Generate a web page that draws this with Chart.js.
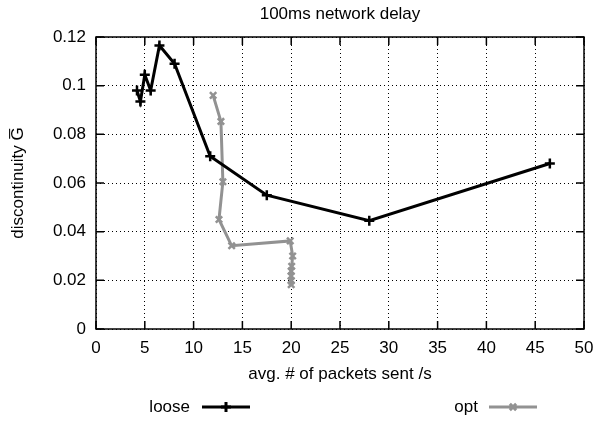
<!DOCTYPE html>
<html>
<head>
<meta charset="utf-8">
<script src="https://cdn.jsdelivr.net/npm/chart.js@4/dist/chart.umd.min.js"></script>
<style>
  html, body { margin: 0; padding: 0; background: #fff; }
  #wrap { width: 605px; height: 421px; }
</style>
</head>
<body>
<div id="wrap"><canvas id="delay-chart" width="605" height="421"></canvas></div>
<script>
// data
const looseX = [4.2, 4.55, 5.0, 5.6, 6.5, 8.05, 11.7, 17.5, 28.0, 46.5];
const looseY = [0.098, 0.0935, 0.1045, 0.098, 0.1165, 0.109, 0.071, 0.055, 0.0445, 0.068];
const optX = [12.0, 12.8, 13.0, 12.6, 13.9, 19.9, 20.15, 20.05, 20.0, 20.0, 20.0, 20.0];
const optY = [0.096, 0.0853, 0.0605, 0.045, 0.0342, 0.0362, 0.030, 0.0258, 0.0238, 0.0218, 0.0198, 0.0182];

const xTicks = [0, 5, 10, 15, 20, 25, 30, 35, 40, 45, 50];
const yTicks = [0, 0.02, 0.04, 0.06, 0.08, 0.1, 0.12];
const yTickLabels = ['0', '0.02', '0.04', '0.06', '0.08', '0.1', '0.12'];

const FONT = 'Liberation Sans, Arial, Helvetica, sans-serif';
const GRAY = '#929292';

const toPoints = (xs, ys) => xs.map((x, i) => ({ x: x, y: ys[i] }));

// box, inward ticks, title and legend like gnuplot
const gnuplotDecor = {
  id: 'gnuplotDecor',
  afterDraw(chart) {
    const ctx = chart.ctx;
    const a = chart.chartArea;
    const xs = chart.scales.x;
    const ys = chart.scales.y;
    ctx.save();
    ctx.strokeStyle = '#000';
    ctx.lineWidth = 1.5;
    ctx.setLineDash([]);
    ctx.strokeRect(a.left, a.top, a.right - a.left, a.bottom - a.top);
    ctx.beginPath();
    xTicks.forEach(v => {
      const px = xs.getPixelForValue(v);
      ctx.moveTo(px, a.bottom); ctx.lineTo(px, a.bottom - 8);
      ctx.moveTo(px, a.top); ctx.lineTo(px, a.top + 8);
    });
    yTicks.forEach(v => {
      const py = ys.getPixelForValue(v);
      ctx.moveTo(a.left, py); ctx.lineTo(a.left + 8, py);
      ctx.moveTo(a.right, py); ctx.lineTo(a.right - 8, py);
    });
    ctx.stroke();

    // title
    ctx.fillStyle = '#000';
    ctx.font = '17px ' + FONT;
    ctx.textAlign = 'center';
    ctx.textBaseline = 'middle';
    ctx.fillText('100ms network delay', (a.left + a.right) / 2, 14);

    // legend: text then sample
    const items = [
      { ds: chart.data.datasets[0], textRight: 190, lineLeft: 202 },
      { ds: chart.data.datasets[1], textRight: 478, lineLeft: 489 }
    ];
    const ly = 407;
    items.forEach(it => {
      ctx.textAlign = 'right';
      ctx.fillStyle = '#000';
      ctx.fillText(it.ds.label, it.textRight, ly);
      ctx.strokeStyle = it.ds.borderColor;
      ctx.lineWidth = it.ds.borderWidth;
      ctx.beginPath();
      ctx.moveTo(it.lineLeft, ly);
      ctx.lineTo(it.lineLeft + 48, ly);
      ctx.stroke();
      Chart.helpers.drawPoint(ctx, {
        pointStyle: it.ds.pointStyle,
        radius: it.ds.pointRadius,
        borderWidth: it.ds.pointBorderWidth
      }, it.lineLeft + 24, ly);
    });
    ctx.restore();
  }
};

const delayChart = new Chart(document.getElementById('delay-chart'), {
  type: 'line',
  data: {
    datasets: [{
      label: 'loose',
      data: toPoints(looseX, looseY),
      borderColor: '#000',
      backgroundColor: '#000',
      borderWidth: 3,
      pointStyle: 'cross',
      pointRadius: 5,
      pointBorderWidth: 2.5,
      pointBorderColor: '#000',
      tension: 0
    }, {
      label: 'opt',
      data: toPoints(optX, optY),
      borderColor: GRAY,
      backgroundColor: GRAY,
      borderWidth: 3,
      pointStyle: 'crossRot',
      pointRadius: 4.5,
      pointBorderWidth: 2.5,
      pointBorderColor: GRAY,
      tension: 0
    }]
  },
  options: {
    responsive: false,
    animation: false,
    layout: { padding: { top: 37, right: 21, bottom: 36, left: 0 } },
    plugins: {
      legend: { display: false },
      title: { display: false },
      tooltip: { enabled: false }
    },
    scales: {
      x: {
        type: 'linear',
        min: 0,
        max: 50,
        afterBuildTicks: s => { s.ticks = xTicks.map(v => ({ value: v })); },
        afterFit: s => { s.height = 56; },
        grid: { color: '#000', lineWidth: 1, drawTicks: false },
        border: { display: false, dash: [1, 3] },
        ticks: { color: '#000', font: { family: FONT, size: 17 }, padding: 9, maxRotation: 0 },
        title: { display: true, text: 'avg. # of packets sent /s', color: '#000', font: { family: FONT, size: 17 }, padding: 0 }
      },
      y: {
        type: 'linear',
        min: 0,
        max: 0.12,
        afterBuildTicks: s => { s.ticks = yTicks.map(v => ({ value: v })); },
        afterFit: s => { s.width = 96; },
        grid: { color: '#000', lineWidth: 1, drawTicks: false },
        border: { display: false, dash: [1, 3] },
        ticks: {
          color: '#000',
          font: { family: FONT, size: 17 },
          padding: 10,
          callback: (v, i) => yTickLabels[i]
        },
        title: { display: true, text: 'discontinuity G\u0305', color: '#000', font: { family: FONT, size: 17 }, padding: { top: 8, bottom: 0 } }
      }
    }
  },
  plugins: [gnuplotDecor]
});
</script>
</body>
</html>
